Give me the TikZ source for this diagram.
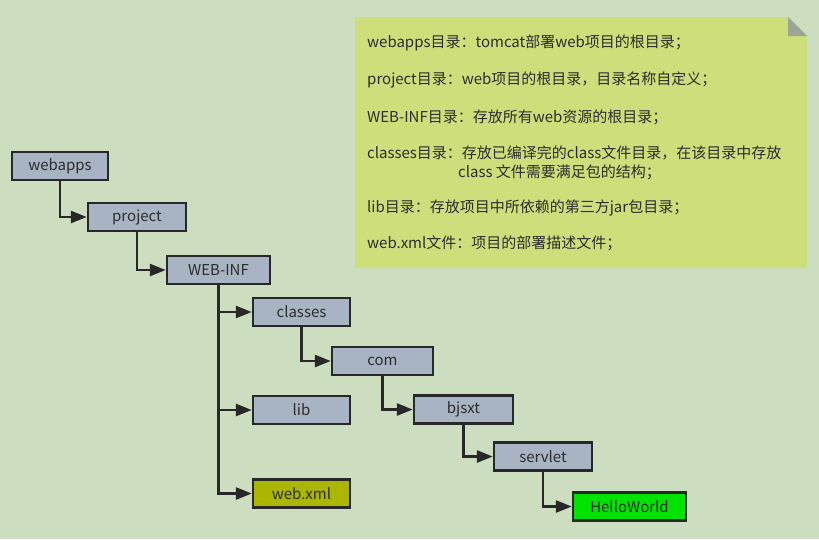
\documentclass[tikz,border=0pt]{standalone}
\usepackage{fontspec}
\setmainfont{Noto Sans CJK SC}
\usetikzlibrary{arrows.meta}
\definecolor{bgc}{RGB}{204,221,192}
\definecolor{boxc}{RGB}{168,180,196}
\definecolor{xmlc}{RGB}{170,182,0}
\definecolor{hwc}{RGB}{0,226,0}
\definecolor{notec}{RGB}{205,222,122}
\definecolor{foldc}{RGB}{156,166,150}
\definecolor{linec}{RGB}{40,40,40}
\definecolor{txtc}{RGB}{45,45,45}
\tikzset{
  dirbox/.style={draw=linec, line width=2.4pt, fill=boxc, minimum width=#1, minimum height=28pt,
    inner sep=0pt, text=txtc, font=\fontsize{15}{17}\selectfont},
  dirbox/.default=97pt,
  conn/.style={draw=linec, line width=2.6pt, -{Triangle[length=16pt,width=12pt]}},
  notetxt/.style={anchor=west, inner sep=0pt, text=txtc, font=\fontsize{15}{17}\selectfont}
}
\begin{document}
\begin{tikzpicture}[x=1pt,y=-1pt]
\fill[bgc] (0,0) rectangle (819,539);
\useasboundingbox (0,0) rectangle (819,539);
% note
\fill[notec] (355,17) -- (788,17) -- (807,36) -- (807,268) -- (355,268) -- cycle;
\fill[foldc] (788,17) -- (788,36) -- (807,36) -- cycle;
\node[notetxt] (n1) at (367,43) {webapps目录：tomcat部署web项目的根目录；};
\node[notetxt] (n2) at (367,80) {project目录：web项目的根目录，目录名称自定义；};
\node[notetxt] (n3) at (367,117) {WEB-INF目录：存放所有web资源的根目录；};
\node[notetxt] (n4) at (367,153) {classes目录：存放已编译完的class文件目录，在该目录中存放};
\node[notetxt] (n4b) at (458,172) {class 文件需要满足包的结构；};
\node[notetxt] (n5) at (367,208) {lib目录：存放项目中所依赖的第三方jar包目录；};
\node[notetxt] (n6) at (367,243) {web.xml文件：项目的部署描述文件；};
% boxes
\node[dirbox=96pt] (webapps) at (60,166) {webapps};
\node[dirbox=98pt] (project) at (137,217) {project};
\node[dirbox=103pt] (webinf) at (218.5,270) {WEB-INF};
\node[dirbox] (classes) at (301.5,312) {classes};
\node[dirbox=101pt] (com) at (382.5,361) {com};
\node[dirbox] (lib) at (301.5,410) {lib};
\node[dirbox, fill=xmlc] (webxml) at (301.5,493.5) {web.xml};
\node[dirbox=99pt] (bjsxt) at (463.5,409.5) {bjsxt};
\node[dirbox=98pt] (servlet) at (543,456.5) {servlet};
\node[dirbox=113pt, fill=hwc] (hello) at (629.5,506.5) {HelloWorld};
% connectors
\draw[conn] (webapps.south) |- (project.west);
\draw[conn] (project.south) |- (webinf.west);
\draw[conn] (webinf.south) |- (classes.west);
\draw[conn] (webinf.south) |- (lib.west);
\draw[conn] (webinf.south) |- (webxml.west);
\draw[conn] (classes.south) |- (com.west);
\draw[conn] (com.south) |- (bjsxt.west);
\draw[conn] (bjsxt.south) |- (servlet.west);
\draw[conn] (servlet.south) |- (hello.west);
\end{tikzpicture}
\end{document}
